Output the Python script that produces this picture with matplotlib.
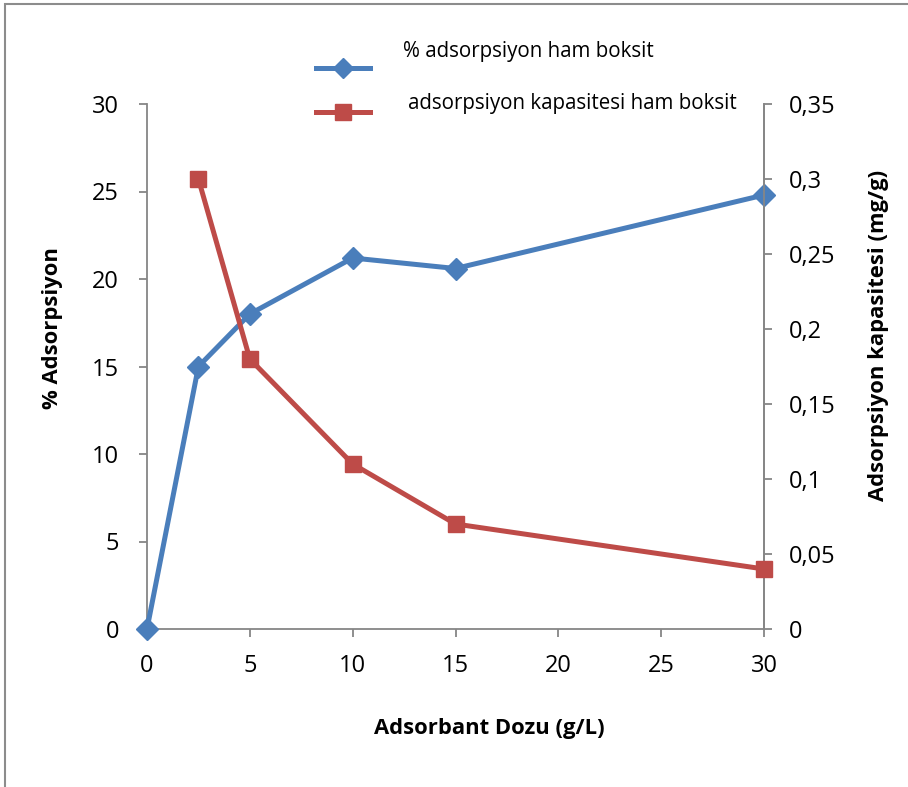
import matplotlib.pyplot as plt
from matplotlib.lines import Line2D
from matplotlib.patches import Rectangle
from matplotlib.ticker import FuncFormatter

plt.rcParams['font.family'] = ['Open Sans', 'DejaVu Sans']

# data
doz_pct = [0, 2.5, 5, 10, 15, 30]
adsorpsiyon = [0, 15, 18, 21.2, 20.6, 24.8]
doz_kap = [2.5, 5, 10, 15, 30]
kapasite = [0.30, 0.18, 0.11, 0.07, 0.04]

x_ticks = [0, 5, 10, 15, 20, 25, 30]
left_ticks = [0, 5, 10, 15, 20, 25, 30]
right_ticks = [0, 0.05, 0.1, 0.15, 0.2, 0.25, 0.3, 0.35]

blue = '#4A7EBB'
red = '#BE4B48'
axis_gray = '#868686'

W, H = 908, 787
fig = plt.figure(figsize=(W / 100, H / 100), dpi=100)
ax = fig.add_axes([147 / W, 1 - 629 / H, (764 - 147) / W, (629 - 104) / H])
ax2 = ax.twinx()

ax.plot(doz_pct, adsorpsiyon, color=blue, lw=3.6, marker='D', ms=11,
        mec=blue, mfc=blue, clip_on=False, zorder=3)
ax2.plot(doz_kap, kapasite, color=red, lw=3.6, marker='s', ms=12,
         mec=red, mfc=red, clip_on=False, zorder=3)

ax.set_xlim(0, 30)
ax.set_ylim(0, 30)
ax2.set_ylim(0, 0.35)
ax.set_xticks(x_ticks)
ax.set_yticks(left_ticks)
ax2.set_yticks(right_ticks)


def comma_fmt(v, pos):
    s = ('%.2f' % v).rstrip('0').rstrip('.')
    return s.replace('.', ',')


ax2.yaxis.set_major_formatter(FuncFormatter(comma_fmt))

for a in (ax, ax2):
    a.spines['top'].set_visible(False)
    for side in ('left', 'right', 'bottom'):
        a.spines[side].set_color(axis_gray)
        a.spines[side].set_linewidth(1.3)
    a.tick_params(colors=axis_gray, labelcolor='black', labelsize=17,
                  length=6, width=1.3, direction='out')
ax.tick_params(axis='y', pad=14)
ax.tick_params(axis='x', pad=12)
ax2.tick_params(axis='y', pad=12)
ax2.spines['left'].set_visible(False)
ax2.spines['bottom'].set_visible(False)

lab_size = 15.8
ax.set_ylabel('% Adsorpsiyon', fontsize=lab_size, fontweight='bold')
ax2.set_ylabel('Adsorpsiyon kapasitesi (mg/g)', fontsize=lab_size,
               fontweight='bold')
ax.set_xlabel('Adsorbant Dozu (g/L)', fontsize=lab_size, fontweight='bold')
for lab in (ax.yaxis.label, ax2.yaxis.label, ax.xaxis.label):
    lab.set_va('center')
    lab.set_ha('center')
ax.yaxis.set_label_coords(-0.1532, 0.5733)
ax2.yaxis.set_label_coords(1.1856, 0.56)
ax.xaxis.set_label_coords(0.5551, -0.1895)

# legend drawn in figure coordinates
legend_items = [('% adsorpsiyon ham boksit', blue, 'D', 10, 68, 52, 403),
                ('adsorpsiyon kapasitesi ham boksit', red, 's', 11, 112, 104, 408)]
for label, c, m, ms, ly, ty, tx in legend_items:
    fig.add_artist(Line2D([316 / W, 343 / W, 370 / W], [1 - ly / H] * 3,
                          color=c, lw=3.6, marker=m, ms=ms, markevery=[1],
                          transform=fig.transFigure))
    fig.text(tx / W, 1 - ty / H, label, fontsize=14.8, va='center', ha='left')

# outer chart border
fig.add_artist(Rectangle((5 / W, -0.05), 1.0, 1 - 4 / H + 0.05,
                         transform=fig.transFigure, fill=False,
                         edgecolor='#8C8C8C', lw=1.5))

fig.savefig('out.png', dpi=100)
